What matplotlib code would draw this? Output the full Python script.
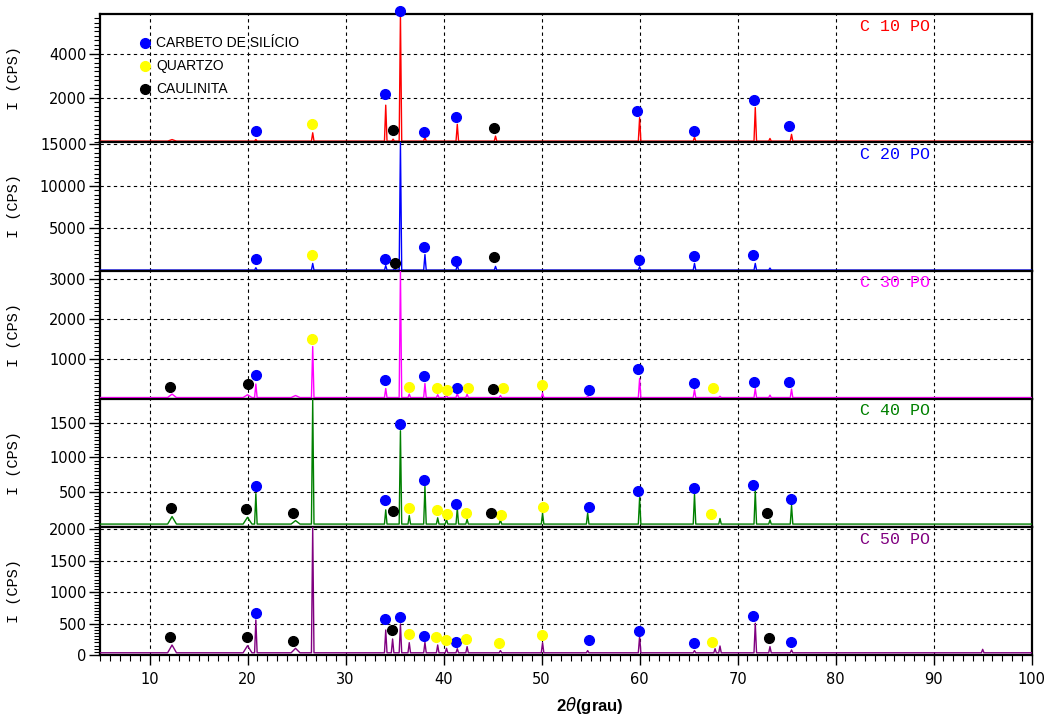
import matplotlib
matplotlib.use("Agg")
import matplotlib.pyplot as plt
import numpy as np
from matplotlib.ticker import MultipleLocator, FixedLocator

# amostras
samples = ["C 10 PO", "C 20 PO", "C 30 PO", "C 40 PO", "C 50 PO"]
colors = ["#ff0000", "#0000ff", "#ff00ff", "#008000", "#800080"]
ymax = [5770, 15190, 3220, 1845, 2040]
yticks = [[2000, 4000], [5000, 10000, 15000], [1000, 2000, 3000],
          [500, 1000, 1500], [0, 500, 1000, 1500, 2000]]
baseline = [60, 60, 30, 40, 35]

# picos (posicao 2theta, intensidade no topo)
pos_c10 = [12.3, 20.85, 26.65, 34.1, 34.85, 35.6, 38.1, 41.4, 45.3, 60.0, 65.6, 71.8, 73.3, 75.5]
int_c10 = [130, 136, 436, 1680, 150, 5770, 240, 818, 286, 1118, 240, 1573, 180, 364]

pos_c20 = [20.85, 26.65, 34.1, 35.0, 35.6, 38.1, 41.4, 45.3, 60.0, 65.6, 71.8, 73.3]
int_c20 = [340, 850, 600, 250, 15190, 1900, 700, 500, 460, 850, 850, 300]

pos_c30 = [12.3, 20.0, 20.85, 24.9, 26.65, 34.1, 35.6, 36.5, 38.1, 39.4, 40.3, 41.4, 42.4,
           45.8, 50.1, 54.7, 60.0, 65.6, 68.2, 71.8, 73.3, 75.5]
int_c30 = [117, 100, 370, 80, 1311, 256, 3220, 117, 383, 100, 90, 134, 110,
           80, 140, 60, 509, 228, 60, 256, 90, 240]

pos_c40 = [12.3, 20.0, 20.85, 24.9, 26.65, 34.1, 35.6, 36.5, 38.1, 39.4, 40.3, 41.4, 42.4,
           45.8, 50.1, 54.7, 60.0, 65.6, 68.2, 71.8, 73.3, 75.5]
int_c40 = [148, 138, 477, 90, 1845, 245, 1384, 162, 583, 130, 110, 268, 110,
           100, 196, 200, 420, 470, 120, 520, 100, 310]

pos_c50 = [12.3, 20.0, 20.85, 24.9, 26.65, 34.1, 34.8, 35.6, 36.5, 38.1, 39.4, 40.3, 41.4,
           42.4, 45.8, 50.1, 54.7, 60.0, 65.6, 67.7, 68.2, 71.8, 73.3, 75.5, 95.0]
int_c50 = [159, 148, 557, 106, 2040, 398, 255, 494, 196, 202, 159, 106, 100,
           133, 70, 196, 70, 300, 70, 100, 143, 505, 133, 80, 90]

broad_peaks = [12.3, 20.0, 24.9]

# marcadores das fases (2theta, I)
sic_c10 = [(20.82, 514), (34.03, 2196), (35.56, 5909), (38.05, 482), (41.27, 1137),
           (59.72, 1437), (65.53, 528), (71.72, 1909), (75.25, 728)]
qtz_c10 = [(26.53, 832)]
kao_c10 = [(34.82, 555), (45.18, 637)]

sic_c20 = [(20.82, 1415), (34.0, 1415), (38.05, 2849), (41.3, 1176), (59.92, 1260),
           (65.53, 1690), (71.58, 1810)]
qtz_c20 = [(26.53, 1810)]
kao_c20 = [(35.0, 937), (45.1, 1654)]

sic_c30 = [(20.82, 585), (34.0, 459), (38.05, 570), (41.37, 282), (54.8, 223),
           (59.86, 737), (65.53, 400), (71.72, 426), (75.25, 426)]
qtz_c30 = [(26.53, 1496), (36.45, 307), (39.33, 282), (40.35, 223), (42.49, 257),
           (46.06, 257), (50.08, 342), (67.44, 257)]
kao_c30 = [(12.12, 307), (20.0, 367), (45.04, 232)]

sic_c40 = [(20.85, 593), (34.03, 384), (35.56, 1485), (38.05, 680), (41.27, 336),
           (54.8, 280), (59.8, 510), (65.5, 565), (71.6, 600), (75.4, 394)]
qtz_c40 = [(36.48, 274), (39.37, 245), (40.39, 187), (42.26, 206), (45.86, 177),
           (50.14, 288), (67.3, 180)]
kao_c40 = [(12.19, 268), (19.83, 254), (24.65, 206), (34.82, 225), (44.88, 206), (73.04, 206)]

sic_c50 = [(20.85, 673), (34.0, 573), (35.56, 605), (38.05, 302), (41.27, 212),
           (54.8, 234), (59.9, 382), (65.5, 191), (71.59, 626), (75.49, 212)]
qtz_c50 = [(36.45, 339), (39.27, 287), (40.25, 234), (42.26, 250), (45.65, 196),
           (50.0, 318), (67.34, 212)]
kao_c50 = [(12.12, 282), (19.9, 282), (24.62, 228), (34.79, 398), (73.25, 266)]

peaks = [(pos_c10, int_c10), (pos_c20, int_c20), (pos_c30, int_c30),
         (pos_c40, int_c40), (pos_c50, int_c50)]
marks = [(sic_c10, qtz_c10, kao_c10), (sic_c20, qtz_c20, kao_c20),
         (sic_c30, qtz_c30, kao_c30), (sic_c40, qtz_c40, kao_c40),
         (sic_c50, qtz_c50, kao_c50)]
phase_colors = ["#0000ff", "#ffff00", "#000000"]
phase_names = ["CARBETO DE SILÍCIO", "QUARTZO", "CAULINITA"]


def pattern(pos, ints, base):
    # vertices: base -> topo -> base para cada pico
    xs, ys = [5.0], [base]
    for p, h in sorted(zip(pos, ints)):
        hw = 0.45 if p in broad_peaks else 0.13
        xs += [p - hw, p, p + hw]
        ys += [base, h, base]
    xs.append(100.0)
    ys.append(base)
    return np.array(xs), np.array(ys)


fig = plt.figure(figsize=(10.49, 7.17), dpi=100)
axes = fig.subplots(5, 1, sharex=True, gridspec_kw=dict(hspace=0))
fig.subplots_adjust(left=0.0958, right=0.9835, top=0.980, bottom=0.0865, hspace=0)

for i, ax in enumerate(axes):
    x, y = pattern(peaks[i][0], peaks[i][1], baseline[i])
    ax.plot(x, y, color=colors[i], lw=1.0, zorder=3)
    for (pts, c) in zip(marks[i], phase_colors):
        if pts:
            px, py = zip(*pts)
            ax.plot(px, py, 'o', color=c, ms=7, mec=c, ls='none', zorder=5, clip_on=False)

    ax.set_xlim(5, 100)
    ax.set_ylim(0, ymax[i])
    ax.yaxis.set_major_locator(FixedLocator(yticks[i]))
    step = yticks[i][1] - yticks[i][0]
    ax.yaxis.set_minor_locator(MultipleLocator(step / 10))
    ax.xaxis.set_major_locator(MultipleLocator(10))
    ax.xaxis.set_minor_locator(MultipleLocator(1))
    ax.set_axisbelow(True)
    ax.grid(True, which='major', color='black', ls=(0, (3, 3)), lw=0.8)
    for s in ax.spines.values():
        s.set_linewidth(1.6)
    ax.tick_params(axis='y', which='major', direction='out', length=8, width=1,
                   labelsize=10.5, pad=2)
    ax.tick_params(axis='y', which='minor', direction='out', length=4, width=0.8)
    ax.set_ylabel("I (CPS)", family="Liberation Mono", fontsize=11)
    ax.yaxis.set_label_coords(-0.085, 0.5)
    ax.text(0.853, 0.905, samples[i], transform=ax.transAxes, color=colors[i],
            family="Liberation Mono", fontsize=12, ha='center', va='center')
    if i < 4:
        ax.tick_params(axis='x', which='both', bottom=False, labelbottom=False)

axes[-1].tick_params(axis='x', which='major', direction='out', length=7, width=1,
                     labelsize=10.5, pad=5)
axes[-1].tick_params(axis='x', which='minor', direction='out', length=4, width=0.8)
axes[-1].set_xlabel(r'2$\theta$(grau)', family="Liberation Sans", fontsize=12,
                    fontweight='bold')
axes[-1].xaxis.set_label_coords(0.526, -0.31)

# legenda
for k in range(3):
    yy = 0.775 - k * 0.178
    axes[0].plot([0.048], [yy], 'o', color=phase_colors[k], ms=7,
                 transform=axes[0].transAxes, clip_on=False, zorder=6)
    axes[0].text(0.060, yy, phase_names[k], transform=axes[0].transAxes,
                 family="Liberation Sans", fontsize=10, va='center', ha='left')

plt.savefig("out.png", dpi=100)
